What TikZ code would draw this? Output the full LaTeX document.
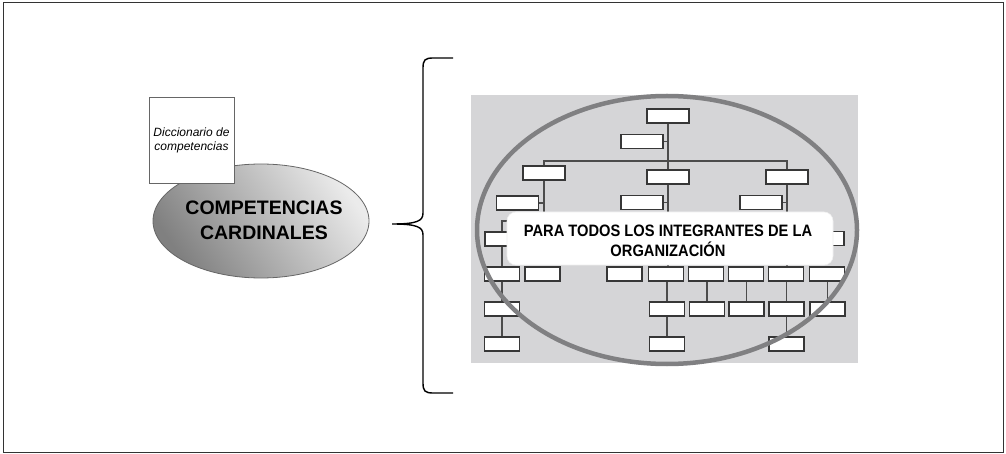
\documentclass[tikz,border=0pt]{standalone}
\usepackage{fontspec}
\setmainfont{Liberation Sans}
\newfontfamily\narrowfont{Liberation Sans}[FakeStretch=0.89]
\usetikzlibrary{shapes.geometric}
\definecolor{bggray}{RGB}{213,213,215}
\definecolor{ringgray}{RGB}{128,128,130}
\definecolor{boxline}{RGB}{55,55,55}
\begin{document}
\begin{tikzpicture}[x=1pt,y=-1pt,
  ob/.style={draw=boxline, fill=white, line width=1.1pt, inner sep=0pt, minimum width=42pt, minimum height=14pt},
  sb/.style={ob, minimum width=35pt},
  conn/.style={draw=black!70, line width=1.1pt},
  frame/.style={draw=black!80, line width=1.5pt},
  bracestyle/.style={draw=black, line width=1.4pt}]
\useasboundingbox (0,0) rectangle (1006,454);
\draw[frame] (3.5,2.5) rectangle (1003.5,452.5);

% left part
\node[ellipse, draw=black!60, line width=0.8pt, inner sep=0pt, minimum width=216pt, minimum height=114pt,
  top color=black!50, bottom color=black!8, shading angle=125] (cc) at (261,221) {};
\node[align=center, font=\bfseries\fontsize{19.5}{25}\selectfont] (cctxt) at (264,220) {COMPETENCIAS\\CARDINALES};
\node[draw=black!60, line width=0.9pt, fill=white, inner sep=0pt, minimum width=85pt, minimum height=86pt,
  align=center, font=\itshape\fontsize{12}{14}\selectfont] (dic) at (191.5,140) {Diccionario de\\competencias};

% brace
\draw[bracestyle] (453,58) -- (433,58) .. controls (425,58) and (423,60) .. (423,68) -- (423,213)
  .. controls (423,221) and (417,224) .. (392,224) .. controls (417,224) and (423,227) .. (423,235)
  -- (423,383) .. controls (423,391) and (425,393) .. (433,393) -- (453,393);

% background panel
\fill[bggray] (471,95) rectangle (858,363);

% org chart boxes
\node[ob] (t0) at (668,116) {};
\node[ob] (t1) at (642,141.5) {};
\node[ob] (L2) at (544,173) {};
\node[ob] (C2) at (668,177) {};
\node[ob] (R2) at (787,177) {};
\node[ob] (L3) at (517.5,203) {};
\node[ob] (C3) at (642,202.5) {};
\node[ob] (R3) at (761,202.5) {};
\node[ob] (LH) at (506,239) {};
\node[ob] (RH) at (823,238.5) {};

\node[sb] (r4a) at (502,274) {};
\node[sb] (r4b) at (542.5,274) {};
\node[sb] (r4c) at (624.5,274) {};
\node[sb] (r4d) at (666,274) {};
\node[sb] (r4e) at (706,274) {};
\node[sb] (r4f) at (746,274) {};
\node[sb] (r4g) at (786,274) {};
\node[sb] (r4h) at (827,274) {};

\node[sb] (r5a) at (502,309) {};
\node[sb] (r5b) at (667,309) {};
\node[sb] (r5c) at (707,309) {};
\node[sb] (r5d) at (746.5,309) {};
\node[sb] (r5e) at (786.5,309) {};
\node[sb] (r5f) at (827.5,309) {};

\node[sb] (r6a) at (502,344) {};
\node[sb] (r6b) at (667,344) {};
\node[sb] (r6c) at (786.5,344) {};

% connectors
\coordinate (barL) at (544,161);
\coordinate (barR) at (787,161);
\coordinate (lj) at (544,221);
\coordinate (lk) at (502,221);
\draw[conn] (t0.south) -- (C2.north);
\draw[conn] (t1.east) -- (t1.east -| t0.south);
\draw[conn] (L2.north) -- (barL) -- (barR) -- (R2.north);
\draw[conn] (C2.south) -- (C2.south |- r4d.north);
\draw[conn] (C3.east) -- (C3.east -| C2.south);
\draw[conn] (L2.south) -- (lj) -- (lk) -- (lk |- LH.north);
\draw[conn] (L3.east) -- (L3.east -| L2.south);
\draw[conn] (r4a.north |- LH.south) -- (r4a.north);
\draw[conn] (R2.south) -- (R2.south |- r4g.north);
\draw[conn] (R3.east) -- (R3.east -| R2.south);
\draw[conn] (RH.west) -- (RH.west -| R2.south);
\draw[conn] (r4a) -- (r5a);
\draw[conn] (r5a) -- (r6a);
\draw[conn] (r4d.south -| r5b) -- (r5b.north);
\draw[conn] (r5b) -- (r6b);
\draw[conn] (r4e.south -| r5c) -- (r5c.north);
\draw[conn] (r4f.south -| r5d) -- (r5d.north);
\draw[conn] (r4g.south -| r5e) -- (r5e.north);
\draw[conn] (r5e) -- (r6c);
\draw[conn] (r4h.south -| r5f) -- (r5f.north);

% ring
\draw[draw=ringgray, line width=4.5pt] (667,230) ellipse [x radius=190, y radius=134];

% label
\node[fill=white, draw=black!6, line width=0.6pt, rounded corners=9pt, inner sep=0pt, minimum width=326pt, minimum height=53pt] (lab) at (670,238.5) {};
\node[align=center, font=\narrowfont\bfseries\fontsize{16.5}{20}\selectfont] (labtxt) at (668,241) {PARA TODOS LOS INTEGRANTES DE LA\\ORGANIZACIÓN};
\end{tikzpicture}
\end{document}
